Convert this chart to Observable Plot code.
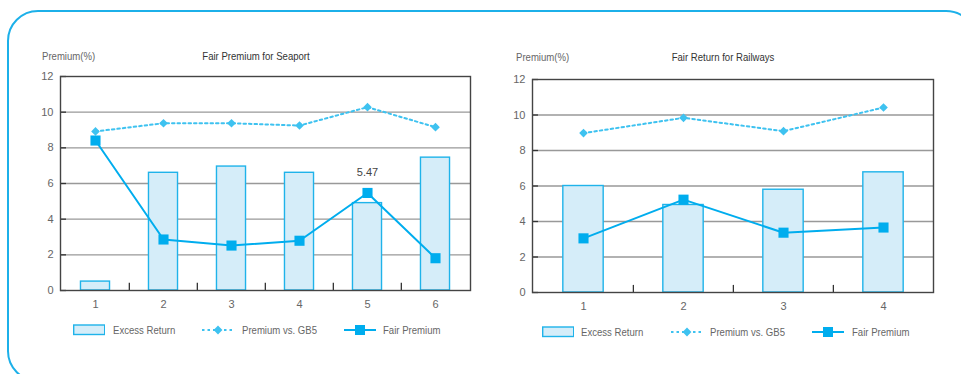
<!DOCTYPE html>
<html>
<head>
<meta charset="utf-8">
<script src="https://cdn.jsdelivr.net/npm/d3@7"></script>
<script src="https://cdn.jsdelivr.net/npm/@observablehq/plot@0.6"></script>
<style>
  body { margin: 0; background: #fff; }
  #wrap {
    position: relative; width: 961px; height: 374px; overflow: hidden;
    font-family: "Liberation Sans", Arial, sans-serif;
    color: #666;
  }
  #border {
    position: absolute; left: 6.5px; top: 10px; width: 966px; height: 368px;
    border: 2px solid #1cb0e9; border-radius: 31px;
  }
  .panel { position: absolute; top: 0; }
  .txt {
    position: absolute; font-size: 11px; line-height: 14px; white-space: nowrap;
    transform: scaleX(0.87); transform-origin: 0 50%;
  }
  .title { color: #333; transform: translateX(-50%) scaleX(0.87); transform-origin: 50% 50%; }
  .sw { position: absolute; }
</style>
</head>
<body>
<div id="wrap">
  <div id="border"></div>
</div>
<script>
// Seaport panel
const seaportCats = [1, 2, 3, 4, 5, 6];
const seaportExcess = [0.5, 6.6, 6.95, 6.6, 4.9, 7.45];
const seaportGB5 = [8.92, 9.38, 9.38, 9.25, 10.28, 9.16];
const seaportFair = [8.41, 2.86, 2.52, 2.79, 5.47, 1.81];
const seaportLabelled = [5];

// Railways panel
const railCats = [1, 2, 3, 4];
const railExcess = [6.0, 4.93, 5.79, 6.77];
const railGB5 = [8.98, 9.84, 9.09, 10.42];
const railFair = [3.05, 5.23, 3.37, 3.66];
const railLabelled = [];

const yTicks = [0, 2, 4, 6, 8, 10, 12];
const legendNames = ["Excess Return", "Premium vs. GB5", "Fair Premium"];

const BAR_FILL = "#d5edf9", BAR_STROKE = "#1fb3ea";
const GB5_COLOR = "#3ec2f0", FAIR_COLOR = "#00adee";
const FONT = '"Liberation Sans", Arial, sans-serif';

const wrap = document.getElementById("wrap");

function panel(cfg) {
  const rows = cfg.cats.map((c, i) => ({
    cat: c, excess: cfg.excess[i], gb5: cfg.gb5[i], fair: cfg.fair[i]
  }));
  const plotW = cfg.width - cfg.margin.left - cfg.margin.right;
  const step = plotW / cfg.cats.length;
  const barInset = step * (1 - cfg.barFrac) / 2;

  const chart = Plot.plot({
    width: cfg.width,
    height: 374,
    marginLeft: cfg.margin.left,
    marginRight: cfg.margin.right,
    marginTop: cfg.margin.top,
    marginBottom: cfg.margin.bottom,
    style: { fontFamily: FONT, fontSize: "11px", color: "#666", background: "transparent", overflow: "visible" },
    x: { type: "band", domain: cfg.cats, padding: 0, label: null },
    y: { domain: [0, 12], label: null },
    marks: [
      // horizontal gridlines
      Plot.ruleY(yTicks.filter(t => t > 0 && t < 12), { stroke: "#999", strokeWidth: 1.3 }),
      // inward y tick marks
      Plot.ruleY(yTicks, { insetRight: plotW - 6, stroke: "#333", strokeWidth: 1.3 }),
      // excess return bars
      Plot.barY(rows, {
        x: "cat", y: "excess", fill: BAR_FILL, stroke: BAR_STROKE, strokeWidth: 1.4,
        insetLeft: barInset, insetRight: barInset
      }),
      // category boundary ticks on the baseline
      Plot.ruleX(cfg.cats.slice(1), { x: d => d, y1: 0, y2: 0.4, dx: -step / 2, stroke: "#333", strokeWidth: 1.3 }),
      Plot.frame({ stroke: "#444", strokeWidth: 1.4 }),
      // premium vs. GB5 (dotted with diamonds)
      Plot.line(rows, { x: "cat", y: "gb5", stroke: GB5_COLOR, strokeWidth: 2, strokeDasharray: "2.5,3" }),
      Plot.dot(rows, { x: "cat", y: "gb5", symbol: "diamond2", r: 3.9, fill: GB5_COLOR, stroke: null }),
      // fair premium (solid with squares)
      Plot.line(rows, { x: "cat", y: "fair", stroke: FAIR_COLOR, strokeWidth: 2 }),
      Plot.dot(rows, { x: "cat", y: "fair", symbol: "square", r: 5.7, fill: FAIR_COLOR, stroke: null }),
      Plot.text(rows.filter(d => cfg.labelled.includes(d.cat)), {
        x: "cat", y: "fair", text: d => d.fair.toFixed(2), dy: -20, fill: "#444", fontSize: 11
      }),
      Plot.axisY(yTicks, { tickSize: 0, tickPadding: 7, fill: "#666", fontSize: 11 }),
      Plot.axisX({ tickSize: 0, tickPadding: 10, fill: "#666", fontSize: 11 })
    ]
  });
  chart.classList.add("panel");
  chart.style.left = cfg.left + "px";
  wrap.appendChild(chart);

  // axis caption and title
  const cap = document.createElement("div");
  cap.className = "txt";
  cap.textContent = "Premium(%)";
  cap.style.left = cfg.caption.x + "px";
  cap.style.top = (cfg.caption.y - 7) + "px";
  wrap.appendChild(cap);

  const t = document.createElement("div");
  t.className = "txt title";
  t.textContent = cfg.title;
  t.style.left = cfg.titleX + "px";
  t.style.top = (cfg.caption.y - 7) + "px";
  wrap.appendChild(t);

  // legend
  const L = cfg.legend;
  const swatches = [
    `<rect x="0.7" y="1" width="31" height="9.5" fill="${BAR_FILL}" stroke="${BAR_STROKE}" stroke-width="1.4"/>`,
    `<line x1="0" y1="6" x2="32" y2="6" stroke="${GB5_COLOR}" stroke-width="2" stroke-dasharray="2.5,3"/>` +
      `<path d="M16,1.6 L20.4,6 L16,10.4 L11.6,6 Z" fill="${GB5_COLOR}"/>`,
    `<line x1="0" y1="6" x2="32" y2="6" stroke="${FAIR_COLOR}" stroke-width="2"/>` +
      `<rect x="11" y="1" width="10" height="10" fill="${FAIR_COLOR}"/>`
  ];
  legendNames.forEach((name, i) => {
    const s = document.createElementNS("http://www.w3.org/2000/svg", "svg");
    s.setAttribute("width", 32);
    s.setAttribute("height", 12);
    s.setAttribute("class", "sw");
    s.style.left = L.sw[i] + "px";
    s.style.top = (L.y - 6) + "px";
    s.innerHTML = swatches[i];
    wrap.appendChild(s);
    const d = document.createElement("div");
    d.className = "txt";
    d.textContent = name;
    d.style.left = L.tx[i] + "px";
    d.style.top = (L.y - 7) + "px";
    wrap.appendChild(d);
  });
}

panel({
  left: 0, width: 480,
  margin: { left: 60, right: 10, top: 76, bottom: 84 },
  cats: seaportCats, excess: seaportExcess, gb5: seaportGB5, fair: seaportFair,
  labelled: seaportLabelled, barFrac: 0.43,
  title: "Fair Premium for Seaport", titleX: 256,
  caption: { x: 42, y: 56 },
  legend: { y: 330, sw: [73, 202, 344], tx: [113, 242, 383] }
});

panel({
  left: 480, width: 481,
  margin: { left: 52, right: 28, top: 79, bottom: 82 },
  cats: railCats, excess: railExcess, gb5: railGB5, fair: railFair,
  labelled: railLabelled, barFrac: 0.405,
  title: "Fair Return for Railways", titleX: 723,
  caption: { x: 516, y: 57 },
  legend: { y: 332, sw: [542, 671, 812], tx: [581, 710, 852] }
});
</script>
</body>
</html>
